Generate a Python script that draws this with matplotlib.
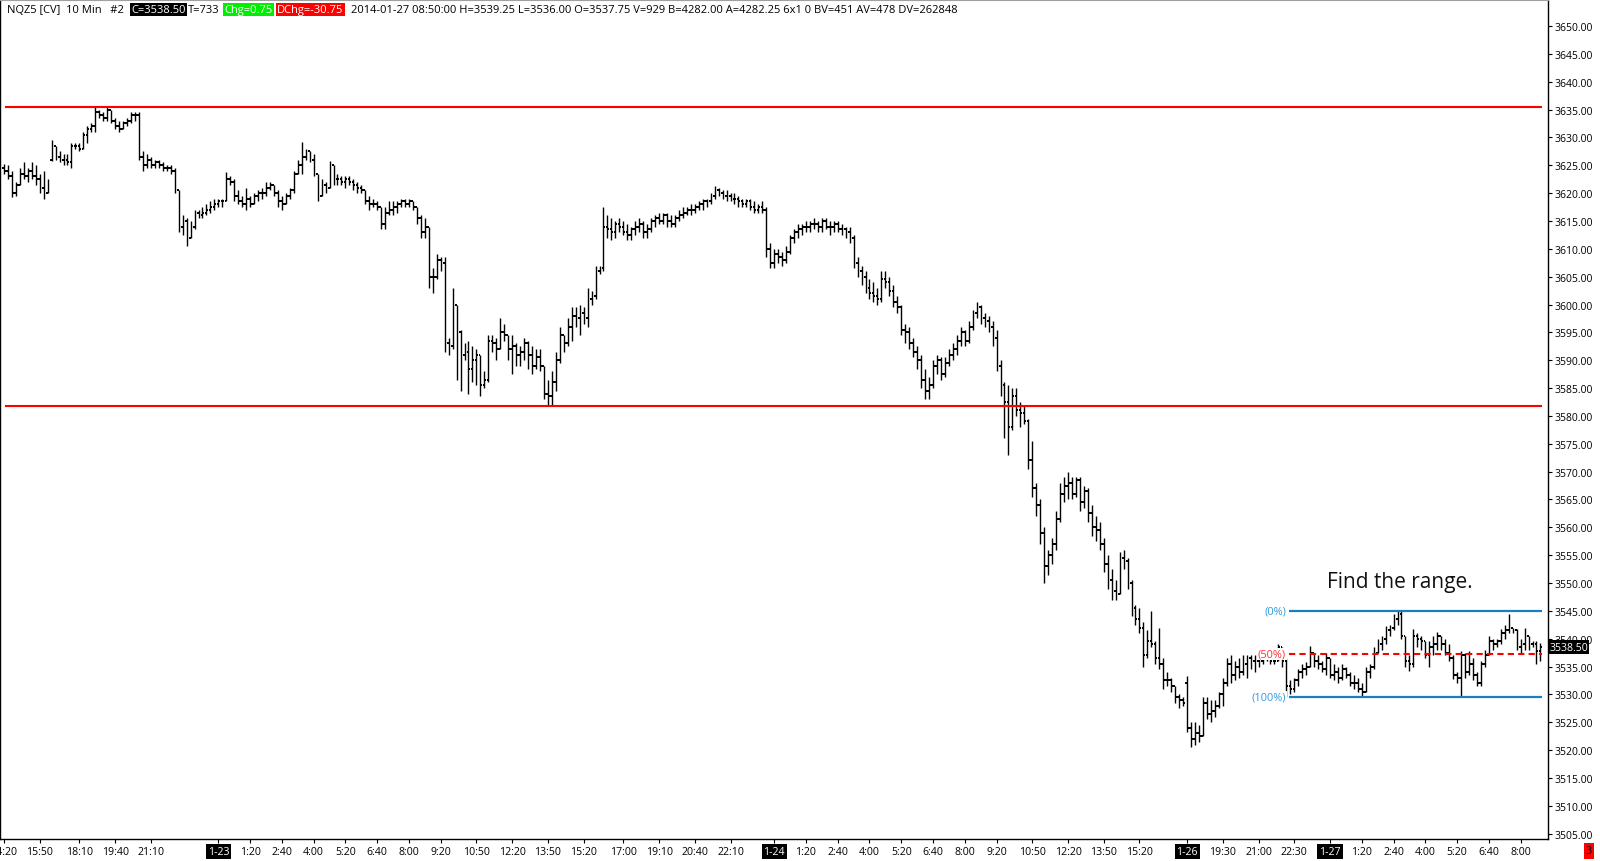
import matplotlib
matplotlib.use("Agg")
import matplotlib.pyplot as plt
from matplotlib.collections import LineCollection
from matplotlib.transforms import blended_transform_factory

plt.rcParams['font.family'] = ['Open Sans', 'DejaVu Sans']

# 10 min bars NQ, 1-22 14:20 -> 1-27 08:50 (bar index = position on the x axis)
highs = [
    3625.25, 3625, 3624, 3622, 3624.5, 3625.5, 3624.5, 3625.5, 3625, 3623.5,
    3624, 3622.5, 3629.5, 3628.5, 3627.5, 3627, 3627, 3629, 3629, 3629,
    3631, 3632, 3632.5, 3635.5, 3635, 3634.5, 3635.5, 3635, 3633.5, 3633,
    3633, 3633.5, 3634.5, 3634.5, 3634.5, 3627.5, 3627, 3626.5, 3626, 3626,
    3625.5, 3625, 3625, 3624.5, 3620.5, 3616, 3615.5, 3615, 3617, 3617,
    3617.5, 3618, 3618.5, 3619, 3619, 3619, 3623.75, 3623, 3622.5, 3620.5,
    3619.5, 3621, 3619.5, 3620, 3620.5, 3621, 3622, 3622, 3621.5, 3620.5,
    3619.5, 3620, 3621, 3624, 3626, 3629.25, 3628, 3627.5, 3627, 3623.5,
    3622.5, 3622, 3625.75, 3625, 3623.5, 3623, 3623, 3623, 3622.5, 3622,
    3621.5, 3620.5, 3619.5, 3619, 3618.5, 3617.5, 3617.5, 3618.5, 3618.5, 3618.5,
    3619, 3619, 3619, 3618.5, 3617.5, 3616, 3615.5, 3614, 3606.5, 3609,
    3608.5, 3608.5, 3594, 3603, 3600, 3595.5, 3593, 3593.5, 3592.5, 3592,
    3591, 3588, 3594.5, 3594.5, 3594, 3597.5, 3596.5, 3594.5, 3594.5, 3593,
    3592.5, 3594, 3593.5, 3592.5, 3592, 3592, 3589, 3586.5, 3588, 3591.5,
    3596, 3594.5, 3597.5, 3599.5, 3599.5, 3600, 3599.5, 3603, 3602.5, 3607,
    3607, 3617.5, 3616, 3615.5, 3615, 3615.5, 3615, 3614.5, 3614, 3615,
    3615.5, 3615, 3614.5, 3615.5, 3616, 3616.5, 3616.5, 3616.5, 3616, 3616,
    3617, 3617.5, 3617.5, 3618, 3618, 3618.5, 3619, 3619, 3620, 3621.25,
    3621, 3620.5, 3620.5, 3620, 3620, 3619.5, 3619, 3619, 3619, 3618.5,
    3618, 3618.5, 3617.5, 3611, 3610, 3610, 3609.5, 3610.5, 3612.5, 3613.5,
    3614.5, 3614.5, 3615, 3615, 3615.5, 3615, 3615.5, 3615.5, 3615, 3615,
    3615, 3614.5, 3614, 3614, 3612.5, 3608.5, 3607, 3606, 3604.5, 3604,
    3603, 3606, 3606, 3605, 3603.5, 3601.5, 3600, 3596.5, 3596, 3594,
    3592.5, 3591, 3588.5, 3587, 3590, 3591, 3590.5, 3590.5, 3592, 3593,
    3594.5, 3596, 3595.5, 3597, 3599, 3600.5, 3600, 3598.5, 3598, 3597,
    3595.5, 3590, 3586, 3585.5, 3585, 3585, 3582.5, 3582, 3579.5, 3575.5,
    3568, 3565, 3560, 3556, 3558, 3563, 3568, 3569, 3570, 3569,
    3569, 3569, 3567.5, 3567, 3564, 3562, 3561, 3558, 3555, 3552.5,
    3550.5, 3555.5, 3556, 3554.5, 3550.5, 3546, 3545.5, 3543, 3541.5, 3545,
    3539.5, 3542, 3536.5, 3534, 3533, 3531.5, 3530, 3529.5, 3533.25, 3525,
    3525, 3524.5, 3529.5, 3529.5, 3529, 3529, 3530.5, 3533, 3536.5, 3537,
    3536, 3536.5, 3537, 3537, 3537, 3537, 3536.5, 3537, 3537, 3536.5,
    3537, 3539, 3538.5, 3536.5, 3532.5, 3533, 3534.5, 3535.5, 3535.75, 3538.75,
    3537.5, 3537, 3536, 3537.5, 3536.5, 3535.5, 3535, 3535.5, 3535, 3534,
    3533.5, 3533, 3532, 3535, 3535.5, 3538.5, 3540, 3540.5, 3542.25, 3542.5,
    3544.5, 3545, 3545, 3540.5, 3537, 3541.75, 3541, 3540.5, 3539.5, 3539.5,
    3540.5, 3541.25, 3540.5, 3540, 3539, 3537, 3534, 3537.75, 3537.5, 3537.75,
    3536.5, 3534, 3536, 3538, 3540.5, 3540, 3540, 3541.75, 3542.5, 3544.5,
    3542, 3541.75, 3540, 3542, 3540.5, 3539.5, 3539.5, 3539.25,
]
lows = [
    3623.5, 3622.5, 3619.25, 3619.5, 3621.5, 3622.5, 3622, 3622.5, 3621.5, 3620,
    3619, 3620.5, 3625.75, 3626, 3625.5, 3625, 3625, 3624.5, 3628, 3627.5,
    3628, 3629, 3631, 3631, 3633.5, 3633, 3633, 3632.5, 3631.5, 3631,
    3631.5, 3632, 3632.5, 3633, 3626, 3624, 3624.5, 3624.5, 3624.5, 3624.5,
    3624, 3624, 3623.5, 3620, 3613, 3612.5, 3610.5, 3612, 3613.5, 3615.5,
    3615.5, 3616, 3616.5, 3617, 3617.5, 3617.5, 3618.5, 3621.5, 3618.5, 3618,
    3617.5, 3617, 3617.5, 3618, 3618.5, 3619, 3619.5, 3620.5, 3619.5, 3617.5,
    3617, 3618, 3619, 3620, 3623.5, 3623.5, 3626, 3625.5, 3623, 3618.5,
    3619.5, 3620, 3621, 3621.5, 3621.5, 3621.5, 3621, 3621.5, 3620.5, 3620,
    3620, 3618, 3617, 3617.5, 3617, 3613.5, 3613.5, 3616, 3616, 3616.5,
    3617.5, 3617.5, 3617.5, 3617, 3614.5, 3612, 3612, 3603, 3602, 3604.5,
    3606, 3591.5, 3591, 3592, 3586.5, 3584.5, 3590, 3584, 3586, 3585.5,
    3583.5, 3585, 3586, 3591.5, 3590, 3592, 3593.5, 3590, 3587.5, 3589,
    3589, 3590, 3588.5, 3587.5, 3588.5, 3588, 3583, 3582, 3581.75, 3584.5,
    3589.5, 3591.5, 3592.5, 3593.5, 3596, 3594.5, 3596.5, 3596, 3600, 3601,
    3605.5, 3606, 3612, 3611.5, 3612, 3613, 3612.5, 3611.5, 3611.5, 3612.5,
    3613, 3612, 3612, 3613, 3614, 3614.5, 3614.5, 3614, 3614, 3614,
    3615, 3615.5, 3616, 3616, 3616.5, 3617, 3617, 3617.5, 3618, 3619,
    3619.5, 3619, 3618.5, 3618.5, 3618, 3617.5, 3617.5, 3617.5, 3617, 3616.5,
    3616.5, 3616.5, 3608.5, 3606.5, 3606.5, 3607.5, 3607, 3607.5, 3609, 3611,
    3612, 3612.5, 3613, 3613, 3613.5, 3613, 3613, 3613.5, 3612.5, 3613,
    3613, 3612.5, 3612, 3611, 3606.5, 3605, 3603.5, 3602, 3601, 3600.5,
    3600, 3600.5, 3603, 3601.5, 3599.5, 3598.5, 3594.5, 3593, 3592, 3590.5,
    3588.5, 3585, 3583, 3583, 3585, 3587.5, 3586.5, 3587, 3589, 3590,
    3591, 3592.5, 3592.5, 3593, 3595.5, 3597.5, 3596.5, 3596, 3595, 3592.5,
    3588, 3583.5, 3576, 3573, 3577.5, 3580, 3578, 3578.5, 3570.5, 3565.5,
    3562, 3557, 3550, 3551.5, 3553.5, 3556, 3561, 3564.5, 3565, 3565,
    3565.5, 3563, 3563.5, 3561, 3558.5, 3557.5, 3556, 3552, 3549, 3547,
    3547, 3548, 3552.5, 3549, 3544, 3542.5, 3541, 3535, 3536.5, 3538.5,
    3535.5, 3534.5, 3531, 3531.5, 3530.5, 3528.5, 3527.5, 3528, 3523.25, 3520.5,
    3521, 3521.5, 3522.5, 3525.5, 3525, 3526, 3527.5, 3528, 3531.5, 3532,
    3532.5, 3533, 3533.5, 3533, 3534.5, 3534, 3535, 3535.5, 3536, 3535.5,
    3535.5, 3536, 3535, 3529.5, 3530, 3530.5, 3531.5, 3533, 3533.5, 3535,
    3535, 3534.5, 3534, 3533.5, 3533, 3532.5, 3532, 3532.5, 3533, 3531.5,
    3531, 3530.5, 3529.5, 3530.5, 3533, 3534.5, 3537.5, 3538, 3539, 3540.5,
    3541.5, 3542.5, 3540, 3535, 3534.25, 3535, 3538.5, 3538, 3536.5, 3535,
    3537, 3538, 3538, 3537, 3536, 3532.75, 3532, 3529.5, 3533, 3533.5,
    3532.5, 3531.5, 3531.5, 3535, 3537, 3538, 3538.5, 3539, 3540, 3541,
    3541, 3538, 3537.5, 3538, 3538, 3538.5, 3535.5, 3536,
]
closes = [
    3624, 3623, 3620, 3621.5, 3623.5, 3623, 3624, 3623, 3622.5, 3621,
    3620, 3621.5, 3628.5, 3626.5, 3626, 3626, 3625.5, 3628.5, 3628.5, 3628,
    3630.5, 3631.5, 3632, 3634.5, 3634, 3633.5, 3635, 3633, 3632, 3631.5,
    3632.5, 3633, 3634, 3634, 3626.5, 3625, 3626, 3625, 3625.5, 3625,
    3624.5, 3624.5, 3624, 3620.5, 3614, 3615, 3612, 3614, 3616.5, 3616,
    3616.5, 3617, 3617.5, 3618, 3618.5, 3618.5, 3622.5, 3622, 3619.5, 3618.5,
    3618, 3619, 3618, 3619.5, 3620, 3620, 3621, 3621.5, 3620, 3618.5,
    3618, 3619.5, 3620.5, 3623.5, 3625, 3626.5, 3627.5, 3626, 3623.5, 3619.5,
    3621.5, 3621, 3625, 3622.5, 3622.5, 3622, 3622.5, 3622, 3621.5, 3621,
    3620.5, 3618.5, 3618, 3618, 3617.5, 3614.5, 3616.5, 3617, 3617.5, 3618,
    3618.5, 3618, 3618.5, 3617.5, 3615.5, 3613, 3614, 3605, 3605, 3608,
    3607.5, 3593, 3592.5, 3600, 3595, 3591, 3591.5, 3588.5, 3590, 3591,
    3585.5, 3586.5, 3593.5, 3593, 3592, 3595, 3594.5, 3592, 3592.5, 3591,
    3591.5, 3593, 3591, 3589, 3590.5, 3589, 3584, 3583.5, 3586, 3590,
    3594.5, 3593, 3596, 3598, 3597.5, 3598.5, 3597.5, 3601, 3601.5, 3606,
    3606.5, 3614, 3613.5, 3613, 3614.5, 3614, 3613, 3612.5, 3613.5, 3614,
    3614.5, 3613, 3613.5, 3615, 3615.5, 3615, 3616, 3615, 3614.5, 3615.5,
    3616, 3616.5, 3617, 3617, 3617.5, 3618, 3618.5, 3618.5, 3619.5, 3620.5,
    3620, 3619.5, 3619.5, 3619, 3619, 3618.5, 3618, 3618.5, 3617.5, 3617,
    3617.5, 3617, 3610, 3607.5, 3609, 3608.5, 3608, 3609.5, 3612, 3613,
    3613.5, 3614, 3614, 3614.5, 3614.5, 3614, 3615, 3614, 3614, 3614.5,
    3613.5, 3613.5, 3613, 3612, 3607.5, 3606, 3605, 3603, 3602, 3601.5,
    3601, 3604.5, 3604, 3602.5, 3600.5, 3599.5, 3595.5, 3595, 3593, 3591.5,
    3590, 3586.5, 3584.5, 3585.5, 3589, 3590, 3587.5, 3589.5, 3591, 3592,
    3593.5, 3595, 3593.5, 3596, 3598.5, 3599.5, 3597.5, 3597, 3596, 3594,
    3589, 3585.5, 3582.5, 3578, 3583.5, 3581, 3580.5, 3579, 3572, 3567,
    3564, 3559, 3553, 3555, 3557, 3561.5, 3566, 3567.5, 3568, 3566,
    3568.5, 3564.5, 3566.5, 3562.5, 3560, 3559.5, 3557, 3553.5, 3550.5, 3548.5,
    3548, 3554.5, 3554, 3550, 3545.5, 3543.5, 3542, 3537, 3539.5, 3539,
    3536.5, 3535.5, 3532.5, 3532.5, 3531.5, 3529.5, 3529, 3528.5, 3524, 3522,
    3523, 3522.5, 3528.5, 3526.5, 3527, 3528, 3530, 3532, 3535.5, 3533.5,
    3535, 3534, 3535.5, 3536.5, 3536, 3536, 3536, 3536.5, 3536.5, 3536,
    3536, 3538.5, 3536, 3531.5, 3531, 3532.5, 3534, 3534.5, 3535, 3537.5,
    3536, 3535.5, 3534.5, 3536.5, 3533.5, 3534, 3533, 3534.5, 3533.5, 3532,
    3532, 3531, 3530.5, 3534, 3535, 3537.5, 3539, 3540, 3541.5, 3542,
    3543.5, 3544.5, 3540.5, 3536, 3535.5, 3540.5, 3540, 3539.5, 3537, 3538.5,
    3539, 3540.5, 3539, 3537.5, 3536.5, 3533.5, 3533, 3537, 3534, 3535.5,
    3533.5, 3532, 3535.5, 3537, 3539.5, 3539, 3539.5, 3541, 3541.5, 3542,
    3541.5, 3538.5, 3539, 3540.5, 3539, 3539, 3537.75, 3538.5,
]
# open = previous close, except where the session gapped
first_open = 3624.5
gap_opens = {12: 3626.0, 298: 3532.0}
opens = [first_open] + closes[:-1]
for k, v in gap_opens.items():
    opens[k] = v

tick_pos = [0, 9, 19, 28, 37, 54, 62, 70, 78, 86, 94, 102, 110, 119, 128, 137, 146,
            156, 165, 174, 183, 194, 202, 210, 218, 226, 234, 242, 250, 259, 268,
            277, 286, 298, 307, 316, 325, 334, 342, 350, 358, 366, 374, 382]
tick_text = ['14:20', '15:50', '18:10', '19:40', '21:10', '1-23', '1:20', '2:40', '4:00',
             '5:20', '6:40', '8:00', '9:20', '10:50', '12:20', '13:50', '15:20', '17:00',
             '19:10', '20:40', '22:10', '1-24', '1:20', '2:40', '4:00', '5:20', '6:40',
             '8:00', '9:20', '10:50', '12:20', '13:50', '15:20', '1-26', '19:30', '21:00',
             '22:30', '1-27', '1:20', '2:40', '4:00', '5:20', '6:40', '8:00']
price_ticks = list(range(3505, 3651, 5))

sr_levels = [3635.5, 3581.75]
range_levels = [3545.0, 3537.25, 3529.5]
range_text = ['(0%)', '(50%)', '(100%)']
last_price = 3538.5

fig = plt.figure(figsize=(16, 8.62), dpi=100)
ax = fig.add_axes([0, 22 / 862, 1548 / 1600, 839 / 862])
ax.set_xlim(-1.0, 388.9)
ax.set_ylim(3504.04, 3654.67)

n = len(closes)
xs = list(range(n))
verts = [[(i, min(lows[i], opens[i], closes[i])), (i, max(highs[i], opens[i], closes[i]))] for i in xs]
lticks = [[(i - 0.45, opens[i]), (i, opens[i])] for i in xs]
rticks = [[(i, closes[i]), (i + 0.45, closes[i])] for i in xs]
ax.add_collection(LineCollection(verts, colors='black', linewidths=1.0, zorder=2))
ax.add_collection(LineCollection(lticks + rticks, colors='black', linewidths=1.4, zorder=2))

# support / resistance
ax.hlines(sr_levels, 0.25, 387.4, colors='#ff0000', linewidth=1.5, zorder=3)

# range box
ax.hlines([range_levels[0], range_levels[2]], 323.7, 387.4, colors='#1b7dc4', linewidth=1.6, zorder=3)
ax.hlines(range_levels[1], 323.7, 387.4, colors='#ff0000', linewidth=1.5,
          linestyles=(0, (3, 2)), zorder=3)
lab_col = ['#3399dd', '#ff3333', '#3399dd']
for lv, tx, c in zip(range_levels, range_text, lab_col):
    ax.text(322.9, lv, tx, ha='right', va='center', color=c, fontsize=7.9, zorder=4,
            bbox=dict(facecolor='white', edgecolor='none', pad=0.6))

ax.text(351.6, 3550.2, 'Find the range.', ha='center', va='center', fontsize=15, color='#111111')

# axes look
for s in ['left', 'right', 'bottom']:
    ax.spines[s].set_color('black')
    ax.spines[s].set_linewidth(1.0)
ax.spines['top'].set_color('#a0a0a0')

ax.yaxis.tick_right()
ax.set_yticks(price_ticks)
ax.set_yticklabels([f'{v:.2f}' for v in price_ticks])
ax.tick_params(axis='y', direction='out', length=3, width=0.8, pad=2, labelsize=7.5)
ax.set_xticks(tick_pos)
ax.set_xticklabels(tick_text)
ax.tick_params(axis='x', direction='out', length=3, width=0.8, pad=2, labelsize=7.6)
for t in ax.get_xticklabels():
    if '-' in t.get_text():
        t.set_color('white')
        t.set_bbox(dict(facecolor='black', edgecolor='none', pad=1.3))

tr = blended_transform_factory(ax.transAxes, ax.transData)
ax.text(1.0008, last_price, f'{last_price:.2f}', transform=tr, ha='left', va='center',
        color='white', fontsize=7.6, clip_on=False,
        bbox=dict(facecolor='black', edgecolor='none', pad=1.0))

# header line
hy = 1 - 10.5 / 862
hdr = [
    (7, 'NQZ5 [CV]  10 Min   #2', 'black', None),
    (131, 'C=3538.50', 'white', 'black'),
    (188, 'T=733', 'black', None),
    (224, 'Chg=0.75', 'white', '#00ee00'),
    (277, 'DChg=-30.75', 'white', '#ff0000'),
    (351, '2014-01-27 08:50:00 H=3539.25 L=3536.00 O=3537.75 V=929 B=4282.00 '
          'A=4282.25 6x1 0 BV=451 AV=478 DV=262848', 'black', None),
]
for px, tx, fc, bg in hdr:
    kw = {}
    if bg:
        kw['bbox'] = dict(facecolor=bg, edgecolor='none', pad=1.0)
    fig.text(px / 1600, hy, tx, ha='left', va='center', color=fc, fontsize=8.0, **kw)

fig.text(1589 / 1600, 10 / 862, '3', ha='center', va='center', fontsize=7.8, color='black',
         bbox=dict(facecolor='#ff0000', edgecolor='none', pad=1.5))

fig.savefig('out.png', dpi=100)
